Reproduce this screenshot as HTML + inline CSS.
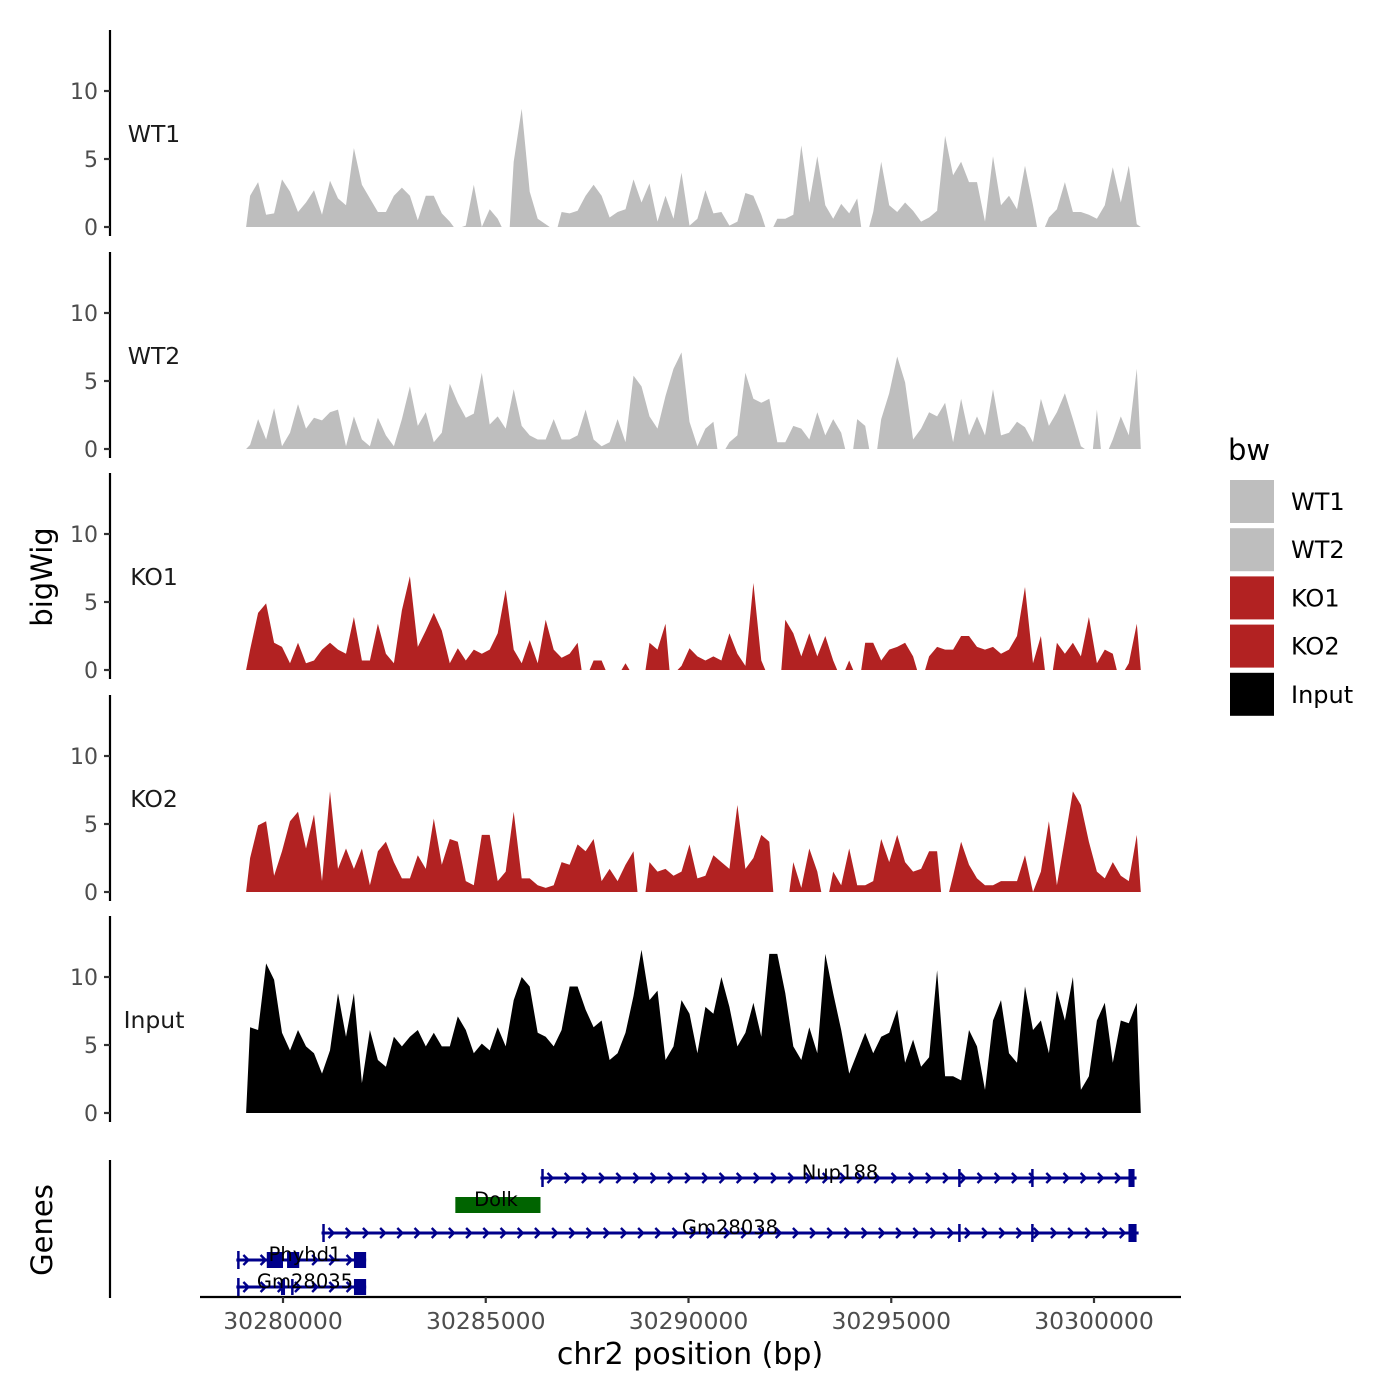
<!DOCTYPE html>
<html><head><meta charset="utf-8">
<style>
html,body{margin:0;padding:0;background:#fff;}
svg{display:block;font-family:"DejaVu Sans","Liberation Sans",sans-serif;}
</style></head>
<body>
<svg id="chart" width="1400" height="1400" viewBox="0 0 1400 1400" xmlns="http://www.w3.org/2000/svg"></svg>
<script>
// ---- data ----
const trackNames = ["WT1","WT2","KO1","KO2","Input"];
const trackColors = ["#bebebe","#bebebe","#b22222","#b22222","#000000"];
const binStart = 30279090;
const binSize = 197;
const wt1 = [2.3,3.3,0.9,1.0,3.5,2.6,1.1,1.8,2.7,0.9,3.4,2.1,1.6,5.8,3.1,2.1,1.1,1.1,2.3,2.9,2.3,0.5,2.3,2.3,1.0,0.4,null,0.1,3.1,0,1.3,0.6,null,4.8,8.7,2.6,0.6,0.2,null,1.1,1.0,1.2,2.3,3.1,2.3,0.7,1.1,1.3,3.5,1.8,3.2,0.4,2.3,0.6,4.0,0.1,
0.6,2.7,1.0,1.1,0.1,0.4,2.5,2.3,0.9,null,0.6,0.6,0.9,6.0,1.8,5.2,1.6,0.6,1.7,1.0,2.1,null,1.1,4.8,1.6,1.1,1.8,1.2,0.4,0.7,1.2,6.7,3.8,4.8,3.3,3.3,0.4,5.2,1.6,2.3,1.3,4.5,1.6,null,0.7,1.3,3.3,1.1,1.1,0.9,0.6,1.6,4.4,1.8,4.5,0.2];
const wt2 = [0.3,2.2,0.7,3.0,0.2,1.2,3.3,1.5,2.3,2.1,2.7,2.9,0.2,2.4,0.7,0.2,2.3,1.0,0.2,2.2,4.6,1.7,2.7,0.5,1.2,4.8,3.4,2.3,2.6,5.6,1.8,2.4,1.5,4.4,1.7,1.0,0.7,0.7,2.2,0.7,0.7,1.0,2.9,0.7,0.2,0.5,2.2,0.5,5.4,4.6,2.4,1.5,3.9,5.9,7.1,2.0,0.2,1.5,2.0,null,0.5,1.0,5.6,3.7,3.4,3.7,0.5,0.5,1.7,1.5,0.7,2.7,1.0,2.2,1.2,null,2.2,1.7,null,2.2,4.1,6.8,4.9,0.7,1.5,2.7,2.4,3.4,0.5,3.7,1.0,2.4,1.0,4.4,1.0,1.2,2.0,1.6,0.5,3.7,1.7,2.7,4.1,2.2,0.2,null,2.9,null,0.7,2.4,1.0,5.9];
const ko1 = [1.5,4.2,4.9,2.0,1.7,0.5,2.0,0.5,0.7,1.5,2.0,1.5,1.2,3.9,0.7,0.7,3.4,1.2,0.5,4.4,6.9,1.7,2.9,4.2,2.9,0.5,1.6,0.7,1.5,1.2,1.5,2.7,5.9,1.5,0.5,2.2,0.5,3.7,1.5,0.9,1.2,2.0,null,0.7,0.7,null,null,0.5,null,null,2.0,1.5,3.4,null,0.3,1.6,1.0,0.7,1.0,0.7,2.7,1.2,0.3,6.4,0.7,null,null,3.7,2.7,1.0,2.7,1.0,2.5,0.7,null,0.7,null,2.0,2.0,0.7,1.5,1.7,2.0,1.0,null,1.0,1.7,1.5,1.5,2.5,2.5,1.7,1.5,1.7,1.2,1.5,2.5,6.1,0.5,2.5,null,2.0,1.2,2.0,1.0,3.9,0.5,1.5,1.2,null,0.5,3.4];
const ko2 = [2.5,4.9,5.2,1.2,3.0,5.2,5.9,3.2,5.7,0.8,7.4,1.7,3.2,1.7,3.2,0.5,3.0,3.7,2.2,1.0,1.0,2.7,1.7,5.4,2.0,3.9,3.7,0.8,0.5,4.2,4.2,0.8,1.5,5.9,1.0,1.0,0.5,0.3,0.5,2.2,2.0,3.5,3.0,3.9,0.8,1.7,0.8,2.0,3.0,null,2.2,1.5,1.7,1.2,1.5,3.5,1.0,1.2,2.7,2.2,1.7,6.4,1.7,2.5,4.2,3.7,null,null,2.2,0.3,3.2,1.5,null,1.5,0.5,3.2,0.5,0.5,0.8,3.9,2.2,4.2,2.2,1.5,1.7,3.0,3.0,null,1.2,3.7,2.0,1.0,0.5,0.5,0.8,0.8,0.8,2.7,0,1.5,5.2,0.5,3.9,7.4,6.4,3.7,1.5,1.0,2.2,1.2,0.8,4.2];
const input = [6.3,6.1,11.0,9.8,5.9,4.6,6.1,4.9,4.4,2.9,4.6,8.8,5.6,8.8,2.2,6.1,3.9,3.4,5.6,4.9,5.6,6.1,4.9,5.9,4.9,4.9,7.1,6.1,4.4,5.1,4.6,6.3,4.9,8.3,10.0,9.3,5.9,5.6,4.9,6.1,9.3,9.3,7.6,6.3,6.8,3.9,4.4,5.9,8.6,12.0,8.3,9.0,3.9,4.9,8.3,7.3,4.4,7.8,7.3,10.0,7.8,4.9,5.9,8.1,5.6,11.7,11.7,8.8,4.9,3.9,6.3,4.4,11.7,8.8,6.1,2.9,4.4,5.9,4.4,5.6,5.9,7.6,3.7,5.4,3.4,4.1,10.5,2.7,2.7,2.4,6.1,4.9,1.7,6.8,8.3,4.4,3.7,9.3,6.1,6.8,4.4,9.0,6.8,10.0,1.7,2.7,6.8,8.1,3.7,6.8,6.6,8.1];
const trackValues = [wt1,wt2,ko1,ko2,input];
const yTicks = [0,5,10];
const xTicks = [30280000,30285000,30290000,30295000,30300000];
const xTickLabels = ["30280000","30285000","30290000","30295000","30300000"];
const geneNames = ["Nup188","Dolk","Gm28038","Phyhd1","Gm28035"];
const geneStarts = [30286350,30284250,30280950,30278850,30278850];
const geneEnds = [30301050,30286350,30301100,30282050,30282050];
const geneExons = [[[30296650,30296700],[30298450,30298500],[30300850,30301000]],[],[[30296650,30296700],[30298450,30298500],[30300850,30301050]],[[30279600,30280000],[30280100,30280400],[30281750,30282050]],[[30279950,30280050],[30280200,30280250],[30281750,30282050]]];

// ---- scales ----
const NS="http://www.w3.org/2000/svg";
const svg=document.getElementById('chart');
const xPx = bp => 283 + (bp-30280000)*(1094-283)/20000;
const panelZero=[227,449,670,892,1113];
const yPx = (p,v) => panelZero[p] - v*13.6;
function mk(tag,attrs,parent){const e=document.createElementNS(NS,tag);for(const k in attrs)e.setAttribute(k,attrs[k]);(parent||svg).appendChild(e);return e;}

// ---- tracks ----
trackValues.forEach((vals,p)=>{
  const g=mk('g',{});
  
  
  const ax=mk('line',{x1:110,x2:110,y1:panelZero[p]-197,y2:panelZero[p]+9,stroke:'#000','stroke-width':2.2},g);
  
  
  yTicks.forEach(t=>{
    const y=yPx(p,t);
    const tk=mk('line',{x1:104,x2:110,y1:y,y2:y,stroke:'#333','stroke-width':2.2},g);
    
    
    const tl=mk('text',{x:98,y:y+8,'text-anchor':'end','font-size':22,fill:'#4d4d4d'},g);
    tl.textContent=t;
    
    
  });
  const lab=mk('text',{x:154,y:panelZero[p]-85,'text-anchor':'middle','font-size':23.5,fill:'#1a1a1a'},g);
  lab.textContent=trackNames[p];
  
  
  let seg=[];
  const flush=()=>{
    if(seg.length){
      const x0=seg[0][0]-4, x1=seg[seg.length-1][0]+4;
      let d='M'+x0.toFixed(1)+','+panelZero[p];
      seg.forEach(s=>{d+=' L'+s[0].toFixed(1)+','+s[1].toFixed(1);});
      d+=' L'+x1.toFixed(1)+','+panelZero[p]+' Z';
      const a=mk('path',{d:d,fill:trackColors[p]},g);
      
      
    }
    seg=[];
  };
  vals.forEach((v,i)=>{
    if(v===null){flush();return;}
    const bp=binStart+binSize*i+binSize/2;
    seg.push([xPx(bp),yPx(p,v)]);
  });
  flush();
});

const yt=mk('text',{x:0,y:0,transform:'translate(52,577) rotate(-90)','text-anchor':'middle','font-size':29,fill:'#000'});
yt.textContent='bigWig';



// ---- genes panel ----
const gg=mk('g',{});


const gax=mk('line',{x1:110,x2:110,y1:1160,y2:1298,stroke:'#000','stroke-width':2.2},gg);


const gt=mk('text',{x:0,y:0,transform:'translate(52,1230) rotate(-90)','text-anchor':'middle','font-size':29,fill:'#000'},gg);
gt.textContent='Genes';


const geneY=[1178,1205,1233,1260,1287];
const labelX=[840,496,730,305,305];
geneNames.forEach((nm,i)=>{
  const sub=mk('g',{},gg);
  
  
  const x0=xPx(geneStarts[i]), x1=xPx(geneEnds[i]), y=geneY[i];
  const col = nm==='Dolk' ? '#006400' : '#00008b';
  if(nm==='Dolk'){
    mk('rect',{x:x0,y:y-8,width:x1-x0,height:16,fill:col},sub);
  } else {
    mk('line',{x1:x0,x2:x1,y1:y,y2:y,stroke:col,'stroke-width':3},sub);
    for(let cx=x0+10;cx<x1-4;cx+=17.2){
      mk('path',{d:`M${cx-3},${y-5} L${cx+2},${y} L${cx-3},${y+5}`,fill:'none',stroke:col,'stroke-width':2.4},sub);
    }
    mk('line',{x1:x0+2,x2:x0+2,y1:y-9,y2:y+9,stroke:col,'stroke-width':2.5},sub);
    geneExons[i].forEach(e=>{
      const ex0=xPx(e[0]), ex1=xPx(e[1]);
      const h = (nm==='Phyhd1'||nm==='Gm28035') ? 16 : 18;
      mk('rect',{x:ex0,y:y-h/2,width:Math.max(2.5,ex1-ex0),height:h,fill:col},sub);
    });
  }
  const t=mk('text',{x:labelX[i],y:y+1,'text-anchor':'middle','font-size':19.5,fill:'#000'},sub);
  t.textContent=nm;
});

// ---- x axis ----
const xg=mk('g',{});


const xl=mk('line',{x1:200,x2:1181,y1:1297,y2:1297,stroke:'#000','stroke-width':2.2},xg);


xTicks.forEach((t,i)=>{
  const x=xPx(t);
  const tk=mk('line',{x1:x,x2:x,y1:1297,y2:1303,stroke:'#333','stroke-width':2.2},xg);
  
  
  const tl=mk('text',{x:x,y:1329,'text-anchor':'middle','font-size':23.5,fill:'#4d4d4d'},xg);
  tl.textContent=xTickLabels[i];
  
  
});
const xt=mk('text',{x:690,y:1364,'text-anchor':'middle','font-size':30,fill:'#000'},xg);
xt.textContent='chr2 position (bp)';



// ---- legend ----
const lg=mk('g',{});


const lt=mk('text',{x:1228,y:460,'font-size':29,fill:'#000'},lg);
lt.textContent='bw';


trackNames.forEach((nm,i)=>{
  const e=mk('g',{},lg);
  
  
  mk('rect',{x:1230,y:480+i*48.2,width:44,height:43,fill:trackColors[i]},e);
  const tx=mk('text',{x:1291,y:510+i*48.2,'font-size':24,fill:'#000'},e);
  tx.textContent=nm;
});
</script>
</body></html>
